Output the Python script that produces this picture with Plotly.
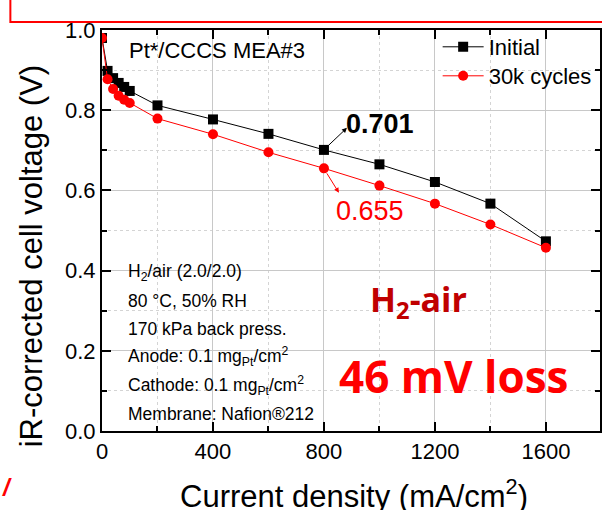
import plotly.graph_objects as go

# Polarization data (current density in mA/cm2, iR-corrected voltage in V)
current_density = [0, 20, 40, 60, 80, 100, 200, 400, 600, 800, 1000, 1200, 1400, 1600]
v_initial = [0.98, 0.898, 0.880, 0.868, 0.858, 0.848, 0.812, 0.777, 0.741, 0.701, 0.665, 0.621, 0.567, 0.473]
v_30k = [0.98, 0.877, 0.853, 0.836, 0.826, 0.818, 0.779, 0.740, 0.695, 0.655, 0.612, 0.567, 0.515, 0.457]

series_names = ["Initial", "30k cycles"]
x_ticks = [0, 400, 800, 1200, 1600]
y_ticks = [0.0, 0.2, 0.4, 0.6, 0.8, 1.0]

highlight_x = 800
highlight_idx = current_density.index(highlight_x)

W, H = 602, 510
L, R, T, B = 102, 0, 30, 79
X_MAX = 1795

fig = go.Figure()
fig.add_trace(go.Scatter(
    x=current_density, y=v_initial, name=series_names[0], mode="lines+markers",
    line=dict(color="black", width=1),
    marker=dict(symbol="square", size=10, color="black"),
    legend="legend",
))
fig.add_trace(go.Scatter(
    x=current_density, y=v_30k, name=series_names[1], mode="lines+markers",
    line=dict(color="#ff0000", width=1),
    marker=dict(symbol="circle", size=10, color="#ff0000"),
    legend="legend2",
))

axis_common = dict(
    showline=True, linecolor="black", linewidth=2, mirror="ticks",
    ticks="inside", ticklen=9, tickwidth=1.5, tickcolor="black",
    showgrid=True, gridcolor="#c8c8c8", gridwidth=1,
    zeroline=False,
    tickfont=dict(family="Liberation Sans, Arial", size=22, color="black"),
)

fig.update_xaxes(
    range=[0, X_MAX], tickvals=x_ticks, ticktext=[str(v) for v in x_ticks],
    minor=dict(dtick=200, tick0=0, ticks="inside", ticklen=5, tickcolor="black",
               showgrid=True, gridcolor="#d4d4d4", griddash="dot", gridwidth=1),
    **axis_common,
)
fig.update_yaxes(
    range=[0, 1.0], tickvals=y_ticks, ticktext=[f"{v:.1f}" for v in y_ticks],
    minor=dict(dtick=0.1, tick0=0, ticks="inside", ticklen=5, tickcolor="black",
               showgrid=True, gridcolor="#d4d4d4", griddash="dot", gridwidth=1),
    **axis_common,
)

def px_x(p):
    return (p - L) / (W - L - R)

def px_y(p):
    return (H - B - p) / (H - T - B)

font_main = "Liberation Sans, Arial"
font_bold = "Open Sans"
ann = []

# axis titles
ann.append(dict(text="iR-corrected cell voltage (V)", textangle=-90,
                xref="paper", yref="paper", x=px_x(31), y=px_y(256),
                xanchor="center", yanchor="middle", showarrow=False,
                font=dict(family=font_main, size=31, color="black")))
ann.append(dict(text="Current density (mA/cm<sup>2</sup>)",
                xref="paper", yref="paper", x=px_x(355), y=px_y(494),
                xanchor="center", yanchor="middle", showarrow=False,
                font=dict(family=font_main, size=31, color="black")))

# sample label
ann.append(dict(text="Pt*/CCCS MEA#3", xref="paper", yref="paper",
                x=px_x(127), y=px_y(50), xanchor="left", yanchor="middle",
                showarrow=False, font=dict(family=font_main, size=22, color="black")))

# test conditions
conditions = [
    "H<sub>2</sub>/air (2.0/2.0)",
    "80 °C, 50% RH",
    "170 kPa back press.",
    "Anode: 0.1 mg<sub>Pt</sub>/cm<sup>2</sup>",
    "Cathode: 0.1 mg<sub>Pt</sub>/cm<sup>2</sup>",
    "Membrane: Nafion®212",
]
cond_y = [272, 301, 329, 356, 385, 414]
for txt, yp in zip(conditions, cond_y):
    ann.append(dict(text=txt, xref="paper", yref="paper", x=px_x(126), y=px_y(yp),
                    xanchor="left", yanchor="middle", showarrow=False,
                    font=dict(family=font_main, size=17.5, color="black")))

# value call-outs at 800 mA/cm2
v_hi = v_initial[highlight_idx]
v_lo = v_30k[highlight_idx]
ann.append(dict(x=883, y=0.756, xref="x", yref="y", ax=-20, ay=19, text="",
                showarrow=True, arrowhead=2, arrowsize=1, arrowwidth=1, arrowcolor="black"))
ann.append(dict(x=854, y=0.594, xref="x", yref="y", ax=-13, ay=-21, text="",
                showarrow=True, arrowhead=2, arrowsize=1, arrowwidth=1, arrowcolor="#ff0000"))
ann.append(dict(text=f"<b>{v_hi:.3f}</b>", xref="paper", yref="paper",
                x=px_x(381), y=px_y(124), xanchor="center", yanchor="middle", showarrow=False,
                font=dict(family=font_main, size=27, color="black")))
ann.append(dict(text=f"{v_lo:.3f}", xref="paper", yref="paper",
                x=px_x(371), y=px_y(211), xanchor="center", yanchor="middle", showarrow=False,
                font=dict(family=font_main, size=27, color="#ff0000")))

# headline labels
loss_mv = round((v_hi - v_lo) * 1000)
ann.append(dict(text="<b>H<sub>2</sub>-air</b>", xref="paper", yref="paper",
                x=px_x(420), y=px_y(301), xanchor="center", yanchor="middle", showarrow=False,
                font=dict(family=font_bold, size=34, color="#c00000")))
ann.append(dict(text=f"<b>{loss_mv} mV loss</b>", xref="paper", yref="paper",
                x=px_x(455), y=px_y(376), xanchor="center", yanchor="middle", showarrow=False,
                font=dict(family=font_bold, size=44, color="#ff0000")))

ann.append(dict(text="<b><i>/</i></b>", xref="paper", yref="paper",
                x=px_x(7), y=px_y(487), xanchor="center", yanchor="middle", showarrow=False,
                font=dict(family=font_main, size=24, color="#ff0000")))

legend_style = dict(xanchor="left", yanchor="middle",
                    bgcolor="rgba(0,0,0,0)", borderwidth=0,
                    font=dict(family=font_main, size=22, color="black"),
                    itemwidth=41)

fig.update_layout(
    width=W, height=H,
    margin=dict(l=L, r=R, t=T, b=B, pad=0),
    paper_bgcolor="white", plot_bgcolor="white",
    showlegend=True,
    legend=dict(x=px_x(439), y=px_y(47), **legend_style),
    legend2=dict(x=px_x(439), y=px_y(76), **legend_style),
    annotations=ann,
    shapes=[dict(type="rect", xref="paper", yref="paper",
                 x0=px_x(10), x1=px_x(640), y0=px_y(22), y1=px_y(-40),
                 line=dict(color="#ff0000", width=2), fillcolor="rgba(0,0,0,0)")],
)

fig.write_html("out.html")
